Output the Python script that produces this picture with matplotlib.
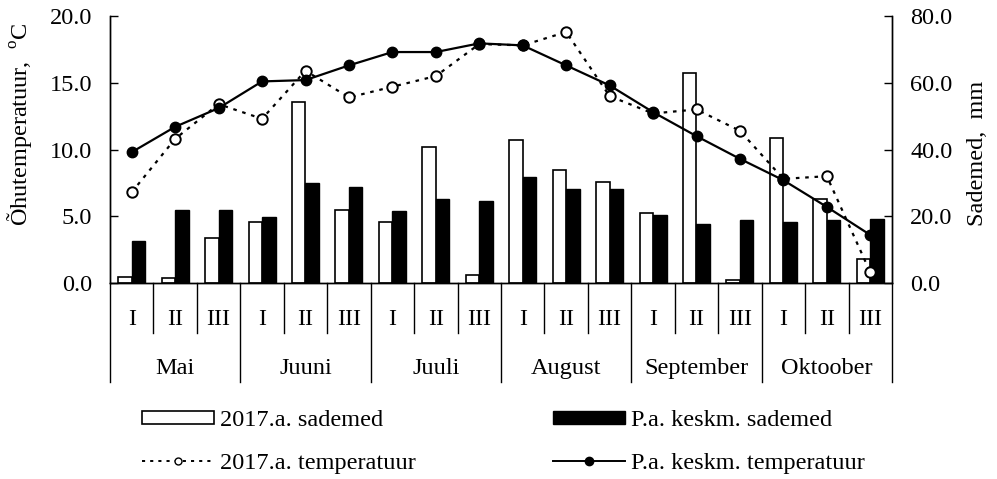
import matplotlib
matplotlib.use("Agg")
import matplotlib.pyplot as plt
from matplotlib.lines import Line2D
from matplotlib.patches import Patch
import numpy as np

plt.rcParams['font.family'] = ['Liberation Serif', 'DejaVu Serif']
plt.rcParams['mathtext.fontset'] = 'custom'
plt.rcParams['mathtext.rm'] = 'Liberation Serif'

months = ["Mai", "Juuni", "Juuli", "August", "September", "Oktoober"]
decades = ["I", "II", "III"]

precip_2017 = [1.9, 1.4, 13.5, 18.2, 54.3, 21.9, 18.2, 40.7, 2.4,
               42.8, 33.9, 30.2, 20.9, 62.8, 0.9, 43.5, 25.1, 7.2]
precip_lt = [12.6, 22.0, 22.0, 19.9, 29.9, 28.8, 21.5, 25.1, 24.6,
             31.9, 28.2, 28.2, 20.4, 17.7, 18.8, 18.2, 18.9, 19.3]
temp_2017 = [6.8, 10.8, 13.4, 12.3, 15.9, 13.9, 14.7, 15.5, 17.9,
             17.8, 18.8, 14.0, 12.7, 13.0, 11.4, 7.8, 8.0, 0.8]
temp_lt = [9.8, 11.7, 13.1, 15.1, 15.2, 16.3, 17.3, 17.3, 17.95,
           17.8, 16.3, 14.8, 12.8, 11.0, 9.3, 7.7, 5.7, 3.6]

FS = 17.5
W, H = 997, 479
fig = plt.figure(figsize=(W / 100, H / 100), dpi=100)
left, right, top, bottom = 110, 892, 16, 283
ax = fig.add_axes([left / W, 1 - bottom / H, (right - left) / W, (bottom - top) / H])
ax2 = ax.twinx()

n = len(precip_2017)
x = np.arange(n)
bw = 0.31
ax2.bar(x - bw / 2, precip_2017, width=bw, facecolor='white', edgecolor='black', linewidth=1.2)
ax2.bar(x + bw / 2, precip_lt, width=bw, facecolor='black', edgecolor='black', linewidth=1.0)
ax2.set_ylim(0, 80)
ax2.set_yticks(np.arange(0, 81, 20))
ax2.set_yticklabels([f"{v:.1f}" for v in np.arange(0, 81, 20)])

ax.plot(x, temp_2017, linestyle=(0, (1.6, 2.6)), color='black', linewidth=1.6,
        marker='o', markersize=7.5, markerfacecolor='white', markeredgecolor='black',
        markeredgewidth=1.4)
ax.plot(x, temp_lt, linestyle='-', color='black', linewidth=1.6,
        marker='o', markersize=7.5, markerfacecolor='black', markeredgecolor='black')
ax.set_ylim(0, 20)
ax.set_yticks(np.arange(0, 21, 5))
ax.set_yticklabels([f"{v:.1f}" for v in np.arange(0, 21, 5)])
ax.set_xlim(-0.5, n - 0.5)
ax.set_xticks([])

ax.set_zorder(ax2.get_zorder() + 1)
ax.patch.set_visible(False)

for a in (ax, ax2):
    a.spines['top'].set_visible(False)
    a.tick_params(axis='y', direction='in', length=6, width=1, labelsize=FS, pad=13)
    for s in a.spines.values():
        s.set_linewidth(1)
ax2.set_xticks([])

# category separators and labels
trans = ax.get_xaxis_transform()
ah = bottom - top
dec_end = -(333 - bottom) / ah
mon_end = -(382 - bottom) / ah
for b in range(n + 1):
    xb = b - 0.5
    yend = mon_end if b % 3 == 0 else dec_end
    ax.plot([xb, xb], [0, yend], color='black', linewidth=1, transform=trans, clip_on=False)
for i in range(n):
    ax.text(i, -(325 - bottom) / ah, decades[i % 3], transform=trans, ha='center',
            va='baseline', fontsize=FS)
for m, name in enumerate(months):
    ax.text(3 * m + 1, -(374 - bottom) / ah, name, transform=trans, ha='center',
            va='baseline', fontsize=FS)

fig.text(20 / W, 1 - 124 / H, "Õhutemperatuur,  $^\\mathregular{o}$C", rotation=90,
         ha='center', va='center', fontsize=FS)
fig.text(977 / W, 1 - 153 / H, "Sademed,  mm", rotation=90, ha='center', va='center',
         fontsize=FS)

h_bar17 = Patch(facecolor='white', edgecolor='black', linewidth=1.2)
h_t17 = Line2D([], [], linestyle=(0, (1.6, 2.6)), color='black', linewidth=1.4, marker='o',
               markersize=5, markerfacecolor='white', markeredgecolor='black')
h_barlt = Patch(facecolor='black', edgecolor='black')
h_tlt = Line2D([], [], linestyle='-', color='black', linewidth=1.4, marker='o',
               markersize=6, markerfacecolor='black', markeredgecolor='black')

common = dict(loc='center left', frameon=False, fontsize=FS, handlelength=2.95,
              handleheight=0.45, handletextpad=0.25, labelspacing=0.88,
              borderpad=0, borderaxespad=0)
leg1 = fig.legend([h_bar17, h_t17], ["2017.a. sademed", "2017.a. temperatuur"],
                  bbox_to_anchor=(142 / W, 1 - 442 / H), **common)
leg2 = fig.legend([h_barlt, h_tlt], ["P.a. keskm. sademed", "P.a. keskm. temperatuur"],
                  bbox_to_anchor=(553 / W, 1 - 442 / H), **common)

fig.savefig("out.png", dpi=100)
